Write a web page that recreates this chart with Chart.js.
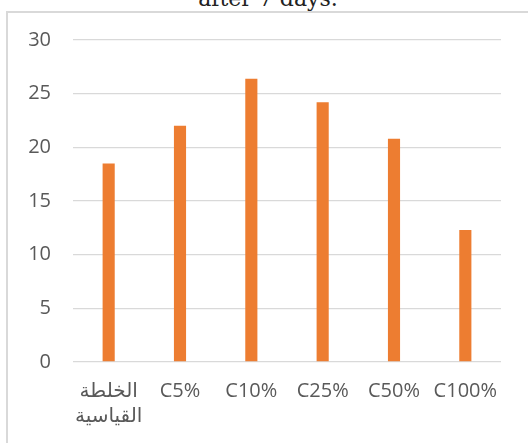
<!DOCTYPE html>
<html>
<head>
<meta charset="utf-8">
<script src="https://cdn.jsdelivr.net/npm/chart.js@4"></script>
<style>
  html, body { margin: 0; padding: 0; background: #fff; overflow: hidden; }
  #wrap { position: relative; width: 528px; height: 443px; overflow: hidden; }
  #frame { position: absolute; left: 6px; top: 11px; width: 700px; height: 700px;
           border: 2px solid #d9d9d9; box-sizing: border-box; }
  #title { position: absolute; left: 268px; top: -12px; transform: translateX(-50%);
           font: 22px "DejaVu Serif", serif; line-height: 22px; color: #222; white-space: nowrap; }
  #c { position: absolute; left: 0; top: 0; }
</style>
</head>
<body>
<div id="wrap">
  <div id="frame"></div>
  <div id="title">after 7 days.</div>
  <canvas id="c" width="528" height="443"></canvas>
</div>
<script>
// Compressive strength per mix
const categories = [["الخلطة", "القياسية"], "C5%", "C10%", "C25%", "C50%", "C100%"];
const strengthValues = [18.5, 22.0, 26.4, 24.2, 20.8, 12.3];
const yTickValues = [0, 5, 10, 15, 20, 25, 30];

const yFont = { family: "'Open Sans', 'DejaVu Sans', sans-serif", size: 20 };
const xFont = { family: "'Open Sans', 'DejaVu Sans', sans-serif", size: 20, lineHeight: 1.25 };

new Chart(document.getElementById('c'), {
  type: 'bar',
  data: {
    labels: categories,
    datasets: [{
      data: strengthValues,
      backgroundColor: '#ED7D31',
      borderWidth: 0,
      barPercentage: 0.17,
      categoryPercentage: 1
    }]
  },
  options: {
    responsive: false,
    animation: false,
    layout: { padding: { left: 0, right: 27, top: 40, bottom: 0 } },
    plugins: { legend: { display: false }, tooltip: { enabled: false }, title: { display: false } },
    scales: {
      x: {
        grid: { display: false, drawTicks: false },
        border: { display: false },
        ticks: { color: '#595959', font: xFont, padding: 17, maxRotation: 0, autoSkip: false },
        afterFit(scale) { scale.height = 81; }
      },
      y: {
        min: 0, max: 30,
        afterBuildTicks(scale) { scale.ticks = yTickValues.map(v => ({ value: v })); },
        grid: { color: '#d9d9d9', lineWidth: 1.3, drawTicks: false },
        border: { display: false },
        ticks: { color: '#595959', font: yFont, padding: 22 },
        afterFit(scale) { scale.width = 73; }
      }
    }
  }
});
</script>
</body>
</html>
